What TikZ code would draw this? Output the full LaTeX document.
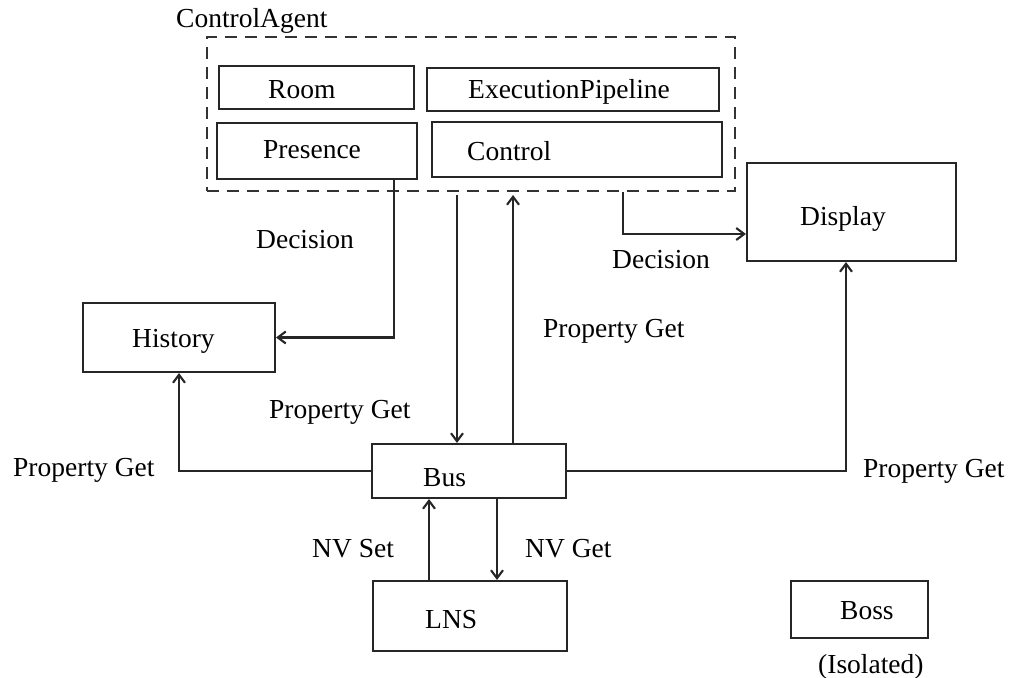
\documentclass[tikz,border=0pt]{standalone}
\usepackage{fontspec}
\setmainfont{Liberation Serif}
\usetikzlibrary{arrows.meta}
\begin{document}
\begin{tikzpicture}[x=1pt,y=-1pt,
  box/.style={draw=black!85, line width=2.1pt, inner sep=0pt, rectangle},
  agentbox/.style={draw=black!80, line width=2.1pt, inner sep=0pt, dash pattern=on 12pt off 8pt},
  txt/.style={anchor=base west, inner sep=0pt, font=\fontsize{27.5}{33}\selectfont},
  conn/.style={draw=black!85, line width=2.1pt},
  arr/.style={conn, -{Straight Barb[length=8pt,width=12pt]}}]
\useasboundingbox (0,0) rectangle (1013,678);
% boxes
\node[agentbox, minimum width=528pt, minimum height=154pt] (agent) at (471,114) {};
\node[box, minimum width=195pt, minimum height=43pt] (room) at (316.5,87.5) {};
\node[box, minimum width=292pt, minimum height=43pt] (pipe) at (573,89.5) {};
\node[box, minimum width=200pt, minimum height=56pt] (presence) at (317,151) {};
\node[box, minimum width=290pt, minimum height=55pt] (control) at (577,149.5) {};
\node[box, minimum width=209pt, minimum height=98pt] (display) at (851.5,212) {};
\node[box, minimum width=192pt, minimum height=69pt] (history) at (179,337.5) {};
\node[box, minimum width=194pt, minimum height=54pt] (bus) at (469,471) {};
\node[box, minimum width=194pt, minimum height=70pt] (lns) at (470,616) {};
\node[box, minimum width=137pt, minimum height=57pt] (boss) at (859.5,609.5) {};
% box texts
\node[txt] (tagent) at (176,27) {ControlAgent};
\node[txt] (troom) at (268,98) {Room};
\node[txt] (tpipe) at (468,98) {ExecutionPipeline};
\node[txt] (tpres) at (263,158) {Presence};
\node[txt] (tctrl) at (467,160) {Control};
\node[txt] (tdisp) at (800,225) {Display};
\node[txt] (thist) at (132,347) {History};
\node[txt] (tbus) at (423,486) {Bus};
\node[txt] (tlns) at (425,628) {LNS};
\node[txt] (tboss) at (840,619) {Boss};
\node[txt] (tiso) at (818,673) {(Isolated)};
% connector columns
\coordinate (xa) at (394,0);
\coordinate (xb) at (457,195);
\coordinate (xc) at (513,195);
\coordinate (xd) at (623,0);
\coordinate (ydec) at (0,234);
\coordinate (xe) at (846,0);
\coordinate (xf) at (429,0);
\coordinate (xg) at (497,0);
% connectors
\draw[arr] (presence.south -| xa) |- (history.east);
\draw[arr] (xb) -- (bus.north -| xb);
\draw[arr] (bus.north -| xc) -- (xc);
\draw[arr] (agent.south -| xd) |- (display.west |- ydec);
\draw[arr] (bus.west) -| (history.south);
\draw[arr] (bus.east) -| (display.south -| xe);
\draw[arr] (lns.north -| xf) -- (bus.south -| xf);
\draw[arr] (bus.south -| xg) -- (lns.north -| xg);
% connector labels
\node[txt] (ldec1) at (256,248) {Decision};
\node[txt] (ldec2) at (612,268) {Decision};
\node[txt] (lpg1) at (13,476) {Property Get};
\node[txt] (lpg2) at (269,418) {Property Get};
\node[txt] (lpg3) at (543,337) {Property Get};
\node[txt] (lpg4) at (863,477) {Property Get};
\node[txt] (lnvset) at (312,557) {NV Set};
\node[txt] (lnvget) at (525,557) {NV Get};
\end{tikzpicture}
\end{document}
